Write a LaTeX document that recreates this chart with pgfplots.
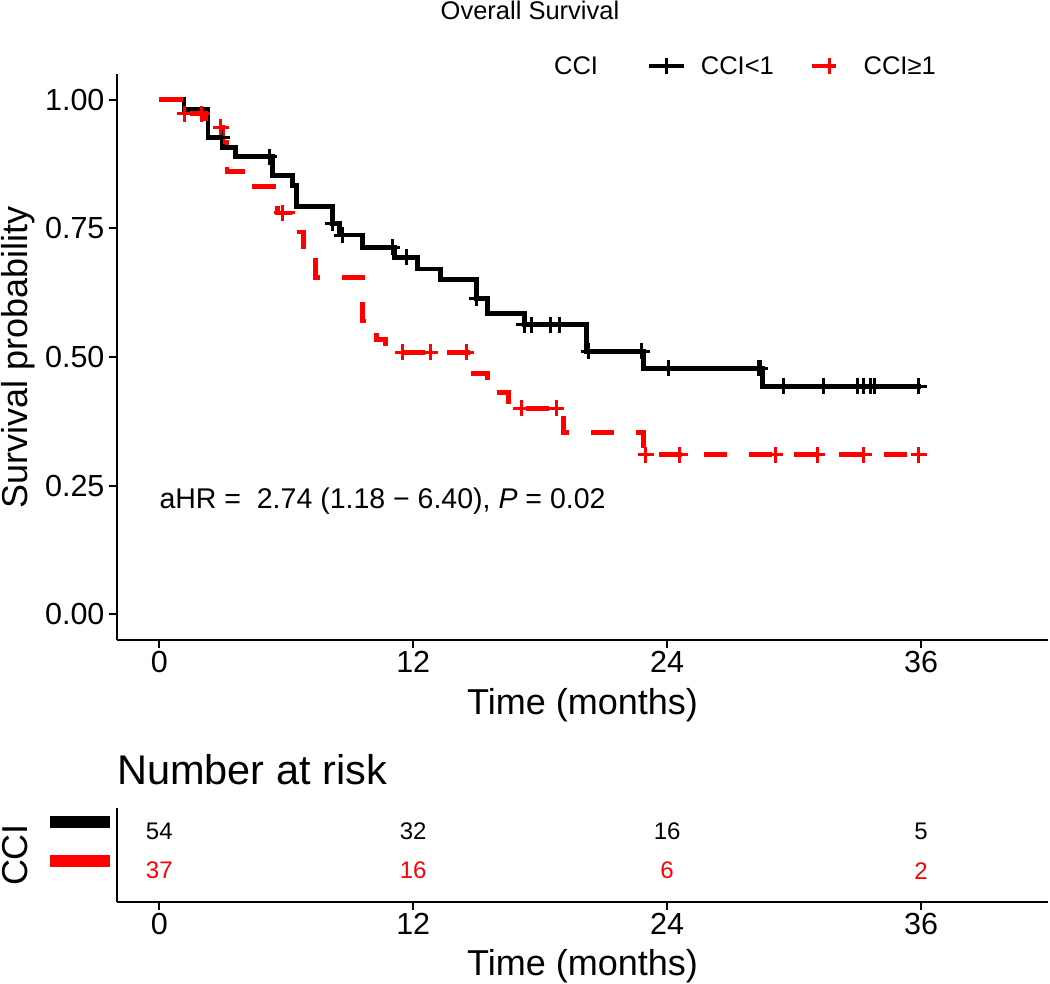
\documentclass[border=0pt]{standalone}
\usepackage{pgfplots}
\pgfplotsset{compat=1.18}
\usepackage{pgfplotstable}
\usepackage{fontspec}
\setmainfont{Liberation Sans}

\pgfplotstableread{
t s
0 1.000
1.17 0.981
2.3 0.926
3.0 0.907
3.6 0.889
5.35 0.852
6.3 0.833
6.5 0.793
8.2 0.760
8.5 0.737
9.6 0.713
11.1 0.694
12.2 0.671
13.3 0.651
15.0 0.614
15.5 0.585
17.25 0.563
20.2 0.511
22.9 0.478
28.5 0.443
36.0 0.443
}\blackcurve

\pgfplotstableread{
t s
0 1.000
1.0 0.973
2.2 0.946
3.0 0.918
3.2 0.860
4.5 0.832
5.6 0.780
6.3 0.743
6.8 0.715
7.4 0.655
9.6 0.570
10.25 0.534
10.7 0.509
14.7 0.468
15.5 0.431
16.5 0.400
19.1 0.353
22.9 0.310
36.0 0.310
}\redcurve

\pgfplotstableread{
t s
2.95 0.926
5.2 0.889
8.2 0.760
8.65 0.737
11.0 0.713
11.7 0.694
15.0 0.614
17.25 0.563
17.6 0.563
18.5 0.563
18.9 0.563
20.3 0.511
22.8 0.511
24.06 0.478
28.3 0.478
28.4 0.478
29.5 0.443
31.4 0.443
33.0 0.443
33.3 0.443
33.6 0.443
33.8 0.443
35.9 0.443
}\blackcens

\pgfplotstableread{
t s
1.2 0.973
2.0 0.973
2.9 0.946
5.8 0.780
11.5 0.509
12.8 0.509
14.5 0.509
17.1 0.400
18.75 0.400
23.0 0.310
24.6 0.310
29.1 0.310
31.1 0.310
33.3 0.310
35.9 0.310
}\redcens

\begin{document}
\begin{tikzpicture}
\path[use as bounding box] (0,0) rectangle (1050pt,984pt);
\node[font=\fontsize{25.5}{30}\selectfont, anchor=center] at (530pt,974pt) {Overall Survival};
\node[font=\fontsize{41.5}{48}\selectfont, anchor=base west, inner sep=0pt] at (117pt,199pt) {Number at risk};

\begin{axis}[
  at={(117pt,344pt)}, anchor=south west,
  scale only axis, width=931pt, height=566pt,
  xmin=-2, xmax=42, ymin=-0.05, ymax=1.05,
  axis lines=left, axis line style={-, line width=2.2pt},
  tick style={black, line width=2.2pt}, tick align=outside, major tick length=8pt,
  xtick={0,12,24,36}, xticklabels={0,12,24,36},
  ytick={0,0.25,0.5,0.75,1}, yticklabels={0.00,0.25,0.50,0.75,1.00},
  ticklabel style={font=\fontsize{30.5}{36}\selectfont},
  yticklabel style={xshift=-1pt},
  /pgf/number format/assume math mode=true,
  xlabel={Time (months)}, ylabel={Survival probability},
  label style={font=\fontsize{36}{42}\selectfont},
  xlabel style={at={(axis description cs:0.5,-0.115)}, anchor=center},
  ylabel style={at={(axis description cs:-0.1064,0.5)}, anchor=center, inner sep=0pt},
  clip=false,
  legend columns=3,
  legend cell align=left,
  legend image code/.code={
    \draw[#1, line width=4.8pt] (0pt,0pt) -- (35pt,0pt);
    \draw[#1, solid, line width=3pt] (17.5pt,-8pt) -- (17.5pt,8pt);
  },
  legend style={at={(axis description cs:0.4511,1.014)}, anchor=west,
    draw=none, fill=none, font=\fontsize{25.5}{30}\selectfont,
    nodes={inner sep=0pt},
    /tikz/every odd column/.append style={column sep=14pt},
    /tikz/column 2/.style={column sep=49pt},
    /tikz/column 4/.style={column sep=36pt}},
]
\addlegendimage{empty legend}
\addlegendentry{CCI}
\addlegendimage{black}
\addlegendentry{CCI<1}
\addlegendimage{red, dash pattern=on 24pt off 22pt}
\addlegendentry{CCI≥1}

\addplot[forget plot, const plot, black, line width=4.8pt] table[x=t,y=s] {\blackcurve};
\addplot[forget plot, const plot, red, line width=4.8pt, dash pattern=on 23pt off 22pt] table[x=t,y=s] {\redcurve};
\addplot[forget plot, only marks, black, mark=+, mark size=8pt, mark options={solid, line width=3pt}] table[x=t,y=s] {\blackcens};
\addplot[forget plot, only marks, red, mark=+, mark size=8pt, mark options={solid, line width=3pt}] table[x=t,y=s] {\redcens};

\node[anchor=west, inner sep=0pt, font=\fontsize{28.5}{34}\selectfont] at (axis cs:0,0.22) {aHR = \ 2.74 (1.18 − 6.40), \textit{P} = 0.02};
\end{axis}

\begin{axis}[
  at={(117pt,82pt)}, anchor=south west,
  scale only axis, width=931pt, height=94pt,
  xmin=-2, xmax=42, ymin=0.2, ymax=2.6,
  axis lines=left, axis line style={-, line width=2.2pt},
  tick style={black, line width=2.2pt}, tick align=outside,
  major tick length=8pt, ytick style={draw=none},
  xtick={0,12,24,36}, xticklabels={0,12,24,36},
  ytick={1,2}, yticklabels={\textcolor{red}{\rule{60pt}{12pt}},\textcolor{black}{\rule{60pt}{12pt}}},
  yticklabel style={inner sep=0pt, xshift=1pt, yshift=9.5pt},
  xticklabel style={font=\fontsize{30.5}{36}\selectfont},
  xlabel={Time (months)}, ylabel={CCI},
  label style={font=\fontsize{36}{42}\selectfont},
  xlabel style={at={(axis description cs:0.5,-0.68)}, anchor=center},
  ylabel style={at={(axis description cs:-0.1095,0.5)}, anchor=center, inner sep=0pt},
  clip=false,
]
\addplot[black, draw=none, mark=none, nodes near coords, nodes near coords align=center,
  point meta=explicit symbolic,
  every node near coord/.append style={font=\fontsize{24}{28}\selectfont, text=black, anchor=center}]
  coordinates {(0,2)[54] (12,2)[32] (24,2)[16] (36,2)[5]};
\addplot[red, draw=none, mark=none, nodes near coords, nodes near coords align=center,
  point meta=explicit symbolic,
  every node near coord/.append style={font=\fontsize{24}{28}\selectfont, text=red, anchor=center}]
  coordinates {(0,1)[37] (12,1)[16] (24,1)[6] (36,1)[2]};
\end{axis}
\end{tikzpicture}
\end{document}
